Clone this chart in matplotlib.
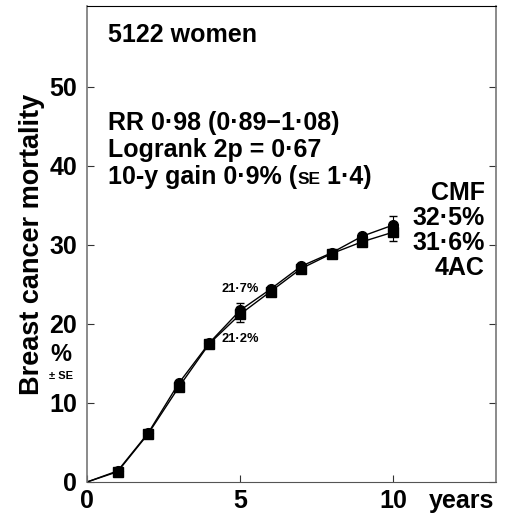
import numpy as np
import matplotlib.pyplot as plt

plt.rcParams['font.family'] = ['Liberation Sans', 'DejaVu Sans']
plt.rcParams['font.weight'] = 'bold'

years = [0, 1, 2, 3, 4, 5, 6, 7, 8, 9, 10]
cmf = [0, 1.4, 6.2, 12.5, 17.6, 21.7, 24.4, 27.3, 29.0, 31.1, 32.5]
ac4 = [0, 1.3, 6.1, 12.0, 17.5, 21.2, 24.1, 27.0, 28.9, 30.4, 31.6]
cmf_se = [0, 0, 0, 0, 0, 1.0, 0, 0, 0, 0, 1.1]
ac4_se = [0, 0, 0, 0, 0, 1.0, 0, 0, 0, 0, 1.1]
xticks = [0, 5, 10]
yticks = [0, 10, 20, 30, 40, 50]

fig = plt.figure(figsize=(5.06, 5.19), dpi=100)
ax = fig.add_axes([0.172, 0.0713, 0.808, 0.9167])

x = np.array(years)
ax.plot(x, ac4, color='black', lw=1.0, zorder=2)
ax.plot(x, cmf, color='black', lw=1.0, zorder=2)
ax.plot(x[1:], ac4[1:], 's', color='black', ms=6.8, zorder=3)
ax.plot(x[1:], cmf[1:], 'o', color='black', ms=7, zorder=3)
for i in (5, 10):
    ax.errorbar(x[i], cmf[i], yerr=cmf_se[i], color='black', lw=0.8, capsize=3, zorder=1)
    ax.errorbar(x[i], ac4[i], yerr=ac4_se[i], color='black', lw=0.8, capsize=3, zorder=1)

ax.set_xlim(0, 13.37)
ax.set_ylim(0, 60.2)
ax.set_xticks(xticks)
ax.set_yticks(yticks)
ax.set_xticklabels([])
ax.set_yticklabels([str(v) for v in yticks], fontsize=18, fontweight='bold')
ax.tick_params(axis='both', direction='in', length=5, width=0.8, color='#333333', pad=7)
ax.tick_params(axis='y', right=True)

for s in ('left', 'right'):
    ax.spines[s].set_color('#777777')
    ax.spines[s].set_linewidth(1.2)
ax.spines['bottom'].set_color('#555555')
ax.spines['top'].set_color('black')

big = 18
# x tick labels as text
for v in xticks:
    ax.text(v, -3.3, str(v), ha='center', va='baseline', fontsize=big, fontweight='bold')
ax.text(13.3, -3.3, 'years', ha='right', va='baseline', fontsize=big, fontweight='bold')

ax.text(0.69, 55.7, '5122 women', fontsize=big, fontweight='bold', va='baseline')
ax.text(0.69, 44.6, 'RR 0\u00b798 (0\u00b789\u22121\u00b708)', fontsize=big, fontweight='bold', va='baseline')
ax.text(0.69, 41.1, 'Logrank 2p = 0\u00b767', fontsize=big, fontweight='bold', va='baseline')

# line with small caps SE
parts = [('10-y gain 0\u00b79% (', big), ('SE', 12.5), (' 1\u00b74)', big)]
fig.canvas.draw()
r = fig.canvas.get_renderer()
xpos, ypos = ax.transData.transform((0.69, 37.7))
for s, fs in parts:
    t = fig.text(xpos, ypos, s, fontsize=fs, fontweight='bold', va='baseline', ha='left',
                 transform=None)
    xpos = t.get_window_extent(r).x1

ax.text(13.0, 35.7, 'CMF', ha='right', va='baseline', fontsize=big, fontweight='bold')
ax.text(13.0, 32.5, '32\u00b75%', ha='right', va='baseline', fontsize=big, fontweight='bold')
ax.text(13.0, 29.4, '31\u00b76%', ha='right', va='baseline', fontsize=big, fontweight='bold')
ax.text(13.0, 26.2, '4AC', ha='right', va='baseline', fontsize=big, fontweight='bold')

ax.text(4.41, 24.05, '21\u00b77%', ha='left', va='baseline', fontsize=9.3, fontweight='bold')
ax.text(4.41, 17.7, '21\u00b72%', ha='left', va='baseline', fontsize=9.3, fontweight='bold')

fig.text(0.063, 0.53, 'Breast cancer mortality', rotation=90, ha='center', va='center',
         fontsize=19.5, fontweight='bold')
fig.text(0.12, 0.316, '%', ha='center', va='center', fontsize=17, fontweight='bold')
fig.text(0.12, 0.276, '\u00b1 SE', ha='center', va='center', fontsize=8, fontweight='bold')

fig.savefig('out.png', dpi=100)
